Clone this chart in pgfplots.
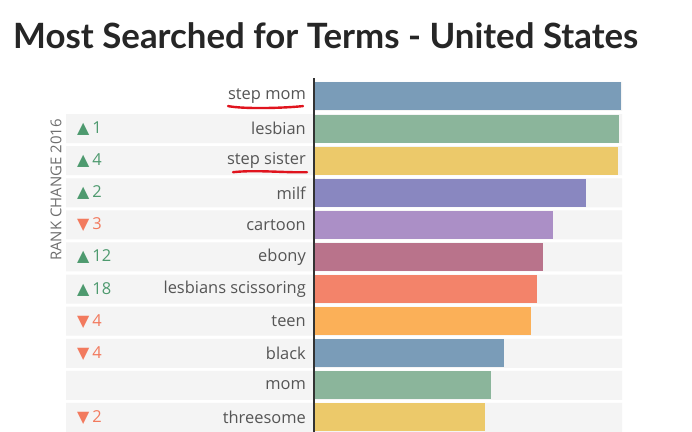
\documentclass[border=0pt]{standalone}
\usepackage{pgfplots}
\pgfplotsset{compat=1.18}
\usepackage{fontspec}
\setmainfont{Open Sans}
\newfontfamily\symfont{DejaVu Sans}
\newfontfamily\titlefont{Lato}

\definecolor{txt}{HTML}{555555}
\definecolor{band}{HTML}{F4F4F4}
\definecolor{upc}{HTML}{4E9A6F}
\definecolor{downc}{HTML}{F27A5E}
\definecolor{cBlue}{HTML}{7A9CB8}
\definecolor{cGreen}{HTML}{8BB59B}
\definecolor{cYellow}{HTML}{ECC96A}
\definecolor{cPurple}{HTML}{8987C0}
\definecolor{cLav}{HTML}{AB8FC6}
\definecolor{cMauve}{HTML}{B9738B}
\definecolor{cSalmon}{HTML}{F3836A}
\definecolor{cOrange}{HTML}{FBB058}
\definecolor{pen}{HTML}{E0141E}

\newcommand{\up}[1]{{\symfont\fontsize{16}{16}\selectfont ▲}\hspace{3bp}#1}
\newcommand{\down}[1]{{\symfont\fontsize{16}{16}\selectfont ▼}\hspace{3bp}#1}

\begin{document}
\begin{tikzpicture}[x=1bp,y=1bp]
\useasboundingbox (0,0) rectangle (692,431);
\fill[white] (0,0) rectangle (692,431);

% title
\node[anchor=west, text=black!85, inner sep=0pt] at (13,395)
  {\resizebox{625bp}{!}{\titlefont\bfseries Most Searched for Terms - United States}};

% rotated axis caption
\node[rotate=90, text=txt!85, inner sep=0pt, font=\fontsize{15}{15}\selectfont]
  at (56,241) {RANK CHANGE 2016};

\begin{axis}[
    at={(66bp,-2.5bp)}, anchor=south west,
    scale only axis,
    width=556bp, height=355.1bp,
    xmin=-249, xmax=307,
    ymin=-0.5625, ymax=10.5,
    y dir=reverse,
    axis lines=none,
    xbar, bar shift=0pt,
    ticks=none,
    clip=true,
]
% background bands
\addplot[xbar, bar width=29bp, fill=band, draw=none] coordinates {
    (307,0) (307,1) (307,2) (307,3) (307,4) (307,5)
    (307,6) (307,7) (307,8) (307,9) (307,10)
};
\addplot[xbar, bar width=29bp, fill=band, draw=none] coordinates {
    (-249,1) (-249,2) (-249,3) (-249,4) (-249,5)
    (-249,6) (-249,7) (-249,8) (-249,9) (-249,10)
};

% bars
\addplot[xbar, bar width=28bp, fill=cBlue,   draw=none] coordinates {(306,0)};
\addplot[xbar, bar width=28bp, fill=cGreen,  draw=none] coordinates {(304,1)};
\addplot[xbar, bar width=28bp, fill=cYellow, draw=none] coordinates {(303,2)};
\addplot[xbar, bar width=28bp, fill=cPurple, draw=none] coordinates {(271,3)};
\addplot[xbar, bar width=28bp, fill=cLav,    draw=none] coordinates {(238,4)};
\addplot[xbar, bar width=28bp, fill=cMauve,  draw=none] coordinates {(228,5)};
\addplot[xbar, bar width=28bp, fill=cSalmon, draw=none] coordinates {(222,6)};
\addplot[xbar, bar width=28bp, fill=cOrange, draw=none] coordinates {(216,7)};
\addplot[xbar, bar width=28bp, fill=cBlue,   draw=none] coordinates {(189,8)};
\addplot[xbar, bar width=28bp, fill=cGreen,  draw=none] coordinates {(176,9)};
\addplot[xbar, bar width=28bp, fill=cYellow, draw=none] coordinates {(170,10)};

% axis line
\draw[black!80, line width=2bp] (axis cs:-1,-0.5625) -- (axis cs:-1,10.5);

% term labels
\begin{scope}[every node/.style={anchor=east, text=txt, inner sep=0pt,
    font=\fontsize{16.5}{17}\selectfont}]
\node at (axis cs:-9,0)  {step mom};
\node at (axis cs:-9,1)  {lesbian};
\node at (axis cs:-9,2)  {step sister};
\node at (axis cs:-9,3)  {milf};
\node at (axis cs:-9,4)  {cartoon};
\node at (axis cs:-9,5)  {ebony};
\node at (axis cs:-9,6)  {lesbians scissoring};
\node at (axis cs:-9,7)  {teen};
\node at (axis cs:-9,8)  {black};
\node at (axis cs:-9,9)  {mom};
\node at (axis cs:-9,10) {threesome};
\end{scope}

% rank changes
\begin{scope}[every node/.style={anchor=west, inner sep=0pt,
    font=\fontsize{16.5}{17}\selectfont}]
\node[text=upc]   at (axis cs:-238,1)  {\up{1}};
\node[text=upc]   at (axis cs:-238,2)  {\up{4}};
\node[text=upc]   at (axis cs:-238,3)  {\up{2}};
\node[text=downc] at (axis cs:-238,4)  {\down{3}};
\node[text=upc]   at (axis cs:-238,5)  {\up{12}};
\node[text=upc]   at (axis cs:-238,6)  {\up{18}};
\node[text=downc] at (axis cs:-238,7)  {\down{4}};
\node[text=downc] at (axis cs:-238,8)  {\down{4}};
\node[text=downc] at (axis cs:-238,10) {\down{2}};
\end{scope}

% hand-drawn underlines
\draw[pen, line width=2.4bp, line cap=round]
  (axis cs:-87,0.3) .. controls (axis cs:-70,0.4) and (axis cs:-30,0.36) .. (axis cs:-12,0.3);
\draw[pen, line width=2.4bp, line cap=round]
  (axis cs:-82,2.36) .. controls (axis cs:-60,2.28) and (axis cs:-30,2.38) .. (axis cs:-8,2.36);
\end{axis}
\end{tikzpicture}
\end{document}
